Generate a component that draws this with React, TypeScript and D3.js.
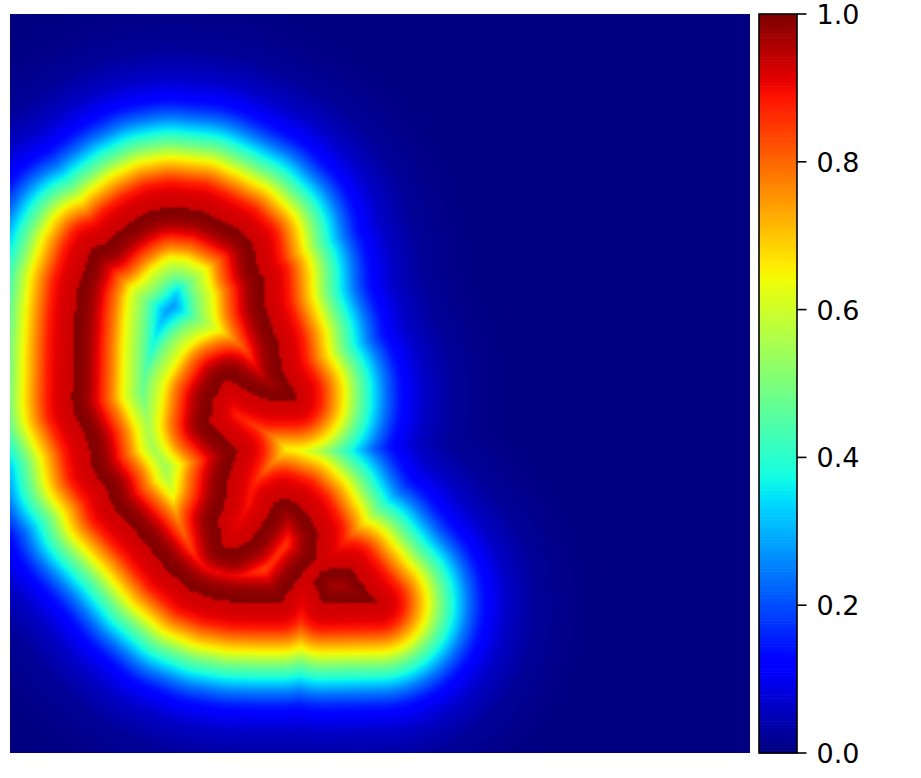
import React, { useMemo } from "react";
import * as d3 from "d3";

// Contours of the shape, in image sample units (0..740, 0..739)
const earOutline: [number, number][] = [
  [62,386],[63,333],[65,299],[68,273],[78,243],[83,234],[97,229],[110,216],[127,204],[143,196],[160,193],
  [190,196],[207,204],[230,216],[243,229],[248,256],[253,263],[255,293],[262,313],[268,329],[272,356],
  [285,379],[285,386],[260,386],[240,379],[220,366],[213,369],[203,386],[200,409],[213,423],[228,436],
  [223,449],[218,466],[215,489],[208,506],[213,533],[223,536],[240,526],[260,499],[263,489],[273,484],
  [287,489],[297,499],[308,519],[307,543],[293,559],[280,576],[270,589],[250,589],[223,588],[200,584],
  [180,576],[157,556],[133,526],[103,493],[97,476],[83,456],[78,429],[63,396],
];
const triangleOutline: [number, number][] = [
  [302,568],[313,556],[340,554],[357,576],[368,589],[313,590],[307,576],
];
const outlines = [earOutline, triangleOutline];

// Value as a function of distance from the contour
const outsideDist = [0, 12, 18, 25, 37, 50, 63, 77, 90, 103, 115, 130, 160, 200, 235];
const outsideVal = [0.935, 0.925, 0.91, 0.885, 0.77, 0.64, 0.49, 0.36, 0.24, 0.15, 0.1, 0.06, 0.02, 0.005, 0];
const insideDist = [0, 10, 17, 22, 27, 40, 50, 70, 80, 100];
const insideVal = [1, 0.99, 0.965, 0.93, 0.895, 0.77, 0.65, 0.48, 0.37, 0.2];

// Jet colormap segments
const redStops = [0, 0.35, 0.66, 0.89, 1];
const redVals = [0, 0, 1, 1, 0.5];
const greenStops = [0, 0.125, 0.375, 0.64, 0.91, 1];
const greenVals = [0, 0, 1, 1, 0, 0];
const blueStops = [0, 0.11, 0.34, 0.65, 1];
const blueVals = [0.5, 1, 1, 0, 0];

const colorTicks = [0, 0.2, 0.4, 0.6, 0.8, 1];
const gridSize = 256;
const domainW = 740;
const domainH = 739;

const W = 921, H = 778;
const plot = { x: 10, y: 14, w: 740, h: 739 };
const bar = { x: 759, y: 14, w: 38, h: 739 };

const rS = d3.scaleLinear(redStops, redVals);
const gS = d3.scaleLinear(greenStops, greenVals);
const bS = d3.scaleLinear(blueStops, blueVals);
const jet = (v: number): [number, number, number] => [
  Math.round(rS(v) * 255), Math.round(gS(v) * 255), Math.round(bS(v) * 255),
];
const outsideF = d3.scaleLinear(outsideDist, outsideVal).clamp(true);
const insideF = d3.scaleLinear(insideDist, insideVal).clamp(true);

function segDist(px: number, py: number, a: [number, number], b: [number, number]) {
  const dx = b[0] - a[0], dy = b[1] - a[1];
  const t = Math.max(0, Math.min(1, ((px - a[0]) * dx + (py - a[1]) * dy) / (dx * dx + dy * dy)));
  return Math.hypot(px - a[0] - t * dx, py - a[1] - t * dy);
}

function renderField(): string {
  const canvas = document.createElement("canvas");
  canvas.width = gridSize;
  canvas.height = gridSize;
  const ctx = canvas.getContext("2d")!;
  const img = ctx.createImageData(gridSize, gridSize);
  const cx = d3.scaleLinear([0, gridSize], [0, domainW]);
  const cy = d3.scaleLinear([0, gridSize], [0, domainH]);
  for (let j = 0; j < gridSize; j++) {
    for (let i = 0; i < gridSize; i++) {
      const px = cx(i + 0.5), py = cy(j + 0.5);
      let d = Infinity, inside = false;
      for (const poly of outlines) {
        if (d3.polygonContains(poly, [px, py])) inside = true;
        for (let k = 0; k < poly.length; k++) {
          d = Math.min(d, segDist(px, py, poly[k], poly[(k + 1) % poly.length]));
        }
      }
      const v = inside ? insideF(d) : outsideF(d);
      const [r, g, b] = jet(v);
      const o = (j * gridSize + i) * 4;
      img.data[o] = r; img.data[o + 1] = g; img.data[o + 2] = b; img.data[o + 3] = 255;
    }
  }
  ctx.putImageData(img, 0, 0);
  return canvas.toDataURL();
}

export default function App() {
  const href = useMemo(renderField, []);
  const yBar = d3.scaleLinear([0, 1], [bar.y + bar.h, bar.y]);
  const levels = d3.range(256).map((i) => i / 255);
  const stepH = bar.h / 256;
  return (
    <svg width={W} height={H} style={{ position: "absolute", left: 0, top: 0, background: "#fff" }}>
      <image
        href={href}
        x={plot.x}
        y={plot.y}
        width={plot.w}
        height={plot.h}
        preserveAspectRatio="none"
      />
      {levels.map((v, i) => {
        const [r, g, b] = jet(v);
        return (
          <rect
            key={i}
            x={bar.x}
            y={bar.y + bar.h - (i + 1) * stepH}
            width={bar.w}
            height={stepH + 0.6}
            fill={`rgb(${r},${g},${b})`}
          />
        );
      })}
      <rect x={bar.x} y={bar.y} width={bar.w} height={bar.h} fill="none" stroke="#000" strokeWidth={1.6} />
      {colorTicks.map((t) => (
        <g key={t}>
          <line x1={bar.x + bar.w} x2={bar.x + bar.w + 9.5} y1={yBar(t)} y2={yBar(t)} stroke="#000" strokeWidth={1.6} />
          <text x={816.5} y={yBar(t) + 10} fontFamily="DejaVu Sans" fontSize={27} fill="#000">
            {t.toFixed(1)}
          </text>
        </g>
      ))}
    </svg>
  );
}
